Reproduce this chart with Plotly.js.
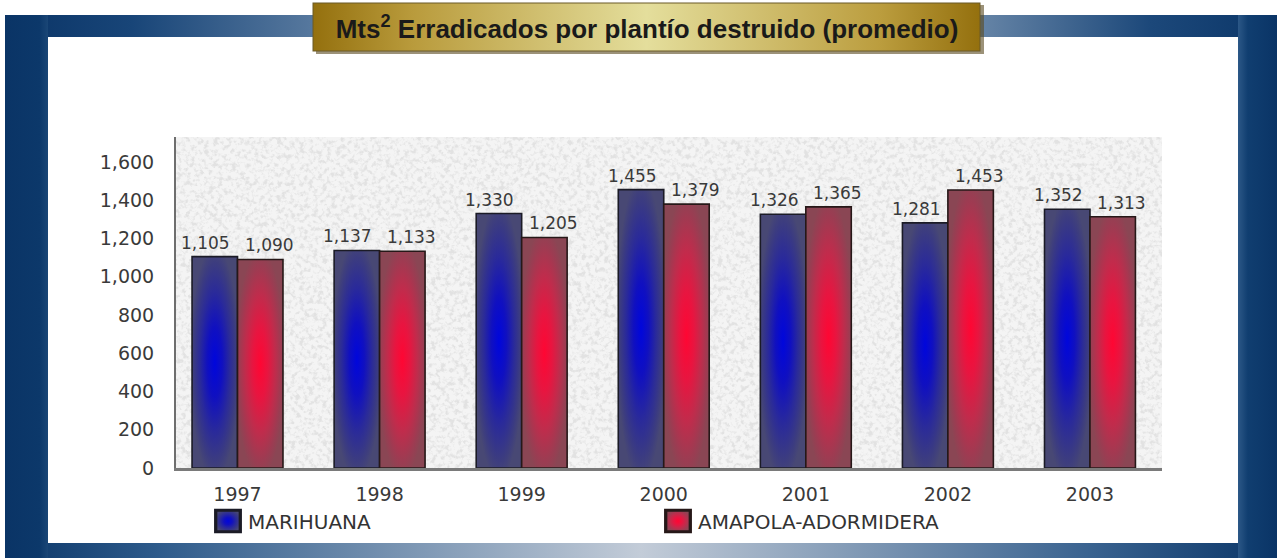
<!DOCTYPE html>
<html>
<head>
<meta charset="utf-8">
<script src="https://cdn.plot.ly/plotly-3.0.1.min.js"></script>
<style>
html,body{margin:0;padding:0;background:#fff;}
#chart{width:1277px;height:558px;}
</style>
</head>
<body>
<div id="chart"></div>
<script>
// ---- data ----
const years = ['1997','1998','1999','2000','2001','2002','2003'];
const marihuana = [1105, 1137, 1330, 1455, 1326, 1281, 1352];
const amapola = [1090, 1133, 1205, 1379, 1365, 1453, 1313];
const yTickVals = [0, 200, 400, 600, 800, 1000, 1200, 1400, 1600];
const seriesNames = ['MARIHUANA', 'AMAPOLA-ADORMIDERA'];
const chartTitle = 'Mts<sup>2</sup> Erradicados por plantío destruido (promedio)';

// ---- geometry helpers (plot area in page pixels) ----
const L = 176, R = 1162, T = 137, B = 468, W = 1277, H = 558;
const px = x => (x - L) / (R - L);
const py = y => (B - y) / (B - T);
const BAR_OFFSET = 0.16; // half bar width in category units (bargap 0.36, 2 bars)

// ---- decorative background (frame, title box, speckled plot area) ----
const bgSvg = `<svg xmlns='http://www.w3.org/2000/svg' width='${W}' height='${H}' viewBox='0 0 ${W} ${H}'>
<defs>
<linearGradient id='tb' x1='0' x2='1'>
<stop offset='0' stop-color='#0a3466'/><stop offset='0.1' stop-color='#184578'/>
<stop offset='0.25' stop-color='#5a7ba0'/><stop offset='0.5' stop-color='#b9c5d3'/>
<stop offset='0.75' stop-color='#6f8cac'/><stop offset='0.9' stop-color='#1c487a'/>
<stop offset='1' stop-color='#0b3668'/></linearGradient>
<linearGradient id='bb' x1='0' x2='1'>
<stop offset='0' stop-color='#0b3668'/><stop offset='0.12' stop-color='#2e5b8b'/>
<stop offset='0.5' stop-color='#c3ccd8'/><stop offset='0.85' stop-color='#3a6390'/>
<stop offset='1' stop-color='#0b3668'/></linearGradient>
<linearGradient id='rb' x1='0' x2='1'>
<stop offset='0' stop-color='#2c5887'/><stop offset='0.25' stop-color='#103e70'/>
<stop offset='1' stop-color='#0a3466'/></linearGradient>
<linearGradient id='lb' x1='0' x2='1'>
<stop offset='0' stop-color='#0a3466'/><stop offset='0.8' stop-color='#0c386a'/>
<stop offset='1' stop-color='#1a4676'/></linearGradient>
<linearGradient id='gold' x1='0' x2='1'>
<stop offset='0' stop-color='#94700e'/><stop offset='0.15' stop-color='#b99b3c'/>
<stop offset='0.5' stop-color='#e4de9c'/><stop offset='0.85' stop-color='#bb9d3e'/>
<stop offset='1' stop-color='#94700e'/></linearGradient>
<filter id='n' x='0' y='0' width='100%' height='100%'>
<feTurbulence type='fractalNoise' baseFrequency='0.22' numOctaves='3' seed='7' result='t'/>
<feColorMatrix in='t' type='matrix' values='0 0 0 0 0.76 0 0 0 0 0.76 0 0 0 0 0.76 4 0 0 0 -1.85'/>
</filter>
</defs>
<rect x='5' y='15' width='1272' height='22' fill='url(#tb)'/>
<rect x='5' y='543' width='1272' height='15' fill='url(#bb)'/>
<rect x='5' y='15' width='43' height='543' fill='url(#lb)'/>
<rect x='1238' y='15' width='39' height='543' fill='url(#rb)'/>
<rect x='176' y='137' width='986' height='331' fill='#f4f4f4'/>
<rect x='176' y='137' width='986' height='331' fill='#fff' filter='url(#n)'/>
<rect x='316' y='5' width='668' height='49' fill='#5a4a20' opacity='0.6'/>
<rect x='313' y='3' width='667' height='48' fill='url(#gold)' stroke='#6b5a28' stroke-width='1'/>
</svg>`;
const bgUri = 'data:image/svg+xml;charset=utf-8,' + encodeURIComponent(bgSvg);

const fontFam = 'DejaVu Sans, Verdana, sans-serif';

const data = [
  {
    type: 'bar', name: seriesNames[0], x: years, y: marihuana,
    marker: {color: '#2a2a9a', line: {color: '#1b1b26', width: 1.6}},
    hoverinfo: 'skip'
  },
  {
    type: 'bar', name: seriesNames[1], x: years, y: amapola,
    marker: {color: '#c02848', line: {color: '#261818', width: 1.6}},
    hoverinfo: 'skip'
  }
];

// value labels, placed from the data through the axes
const labelFont = {family: fontFam, size: 17, color: '#3a3a3a'};
const fmt = v => v.toLocaleString('en-US');
const annotations = [];
years.forEach(function (yr, i) {
  annotations.push({x: i - BAR_OFFSET, y: marihuana[i], xref: 'x', yref: 'y', text: fmt(marihuana[i]),
    showarrow: false, xanchor: 'center', yanchor: 'bottom', xshift: -9, yshift: 2, font: labelFont});
  annotations.push({x: i + BAR_OFFSET, y: amapola[i], xref: 'x', yref: 'y', text: fmt(amapola[i]),
    showarrow: false, xanchor: 'center', yanchor: 'bottom', xshift: 9, yshift: 2, font: labelFont});
});

const layout = {
  width: W, height: H,
  margin: {l: L, r: W - R, t: T, b: H - B, pad: 0},
  paper_bgcolor: '#ffffff',
  plot_bgcolor: 'rgba(0,0,0,0)',
  barmode: 'group', bargap: 0.36, bargroupgap: 0,
  title: {
    text: chartTitle,
    font: {family: 'Liberation Sans, Arial, sans-serif', size: 26, color: '#1a1a1a', weight: 'bold'},
    xref: 'paper', x: px(647), xanchor: 'center',
    yref: 'container', y: 1 - 29 / H, yanchor: 'middle'
  },
  xaxis: {
    type: 'category', range: [-0.433, 6.507],
    showline: true, linecolor: '#7a7a7a', linewidth: 3,
    showgrid: false, zeroline: false, ticks: '',
    tickfont: {family: fontFam, size: 19, color: '#3a3a3a'},
    ticklabelstandoff: 7, fixedrange: true
  },
  yaxis: {
    range: [0, 1730], tickvals: yTickVals, tickformat: ',d',
    showline: true, linecolor: '#6e6e6e', linewidth: 2,
    showgrid: false, zeroline: false, ticks: '',
    tickfont: {family: fontFam, size: 19, color: '#3a3a3a'},
    ticklabelstandoff: 16, fixedrange: true
  },
  annotations: annotations,
  showlegend: true,
  legend: {
    orientation: 'h', x: px(208), xanchor: 'left', xref: 'paper',
    y: py(521), yanchor: 'middle', yref: 'paper',
    font: {family: fontFam, size: 20, color: '#333333'},
    entrywidth: 405, entrywidthmode: 'pixels',
    bgcolor: 'rgba(0,0,0,0)', traceorder: 'normal'
  },
  images: [{
    source: bgUri, xref: 'paper', yref: 'paper',
    x: px(0), y: py(0), sizex: W / (R - L), sizey: H / (B - T),
    xanchor: 'left', yanchor: 'top', sizing: 'stretch', layer: 'below'
  }]
};

const gd = document.getElementById('chart');
Plotly.newPlot(gd, data, layout, {staticPlot: true}).then(function () {
  const NS = 'http://www.w3.org/2000/svg';
  const svg = gd.querySelector('svg.main-svg');
  let defs = svg.querySelector('defs');
  if (!defs) { defs = document.createElementNS(NS, 'defs'); svg.insertBefore(defs, svg.firstChild); }
  function grad(id, stops) {
    const g = document.createElementNS(NS, 'radialGradient');
    g.setAttribute('id', id);
    g.setAttribute('cx', '0.5'); g.setAttribute('cy', '0.5'); g.setAttribute('r', '0.55');
    stops.forEach(function (s) {
      const st = document.createElementNS(NS, 'stop');
      st.setAttribute('offset', s[0]); st.setAttribute('stop-color', s[1]);
      g.appendChild(st);
    });
    defs.appendChild(g);
  }
  grad('gBlue', [[0, '#0006dc'], [0.3, '#1010c0'], [0.6, '#2a2a9a'], [0.85, '#3c3c80'], [1, '#484874']]);
  grad('gRed', [[0, '#ff0633'], [0.3, '#e81540'], [0.6, '#c02c4c'], [0.85, '#9c3c52'], [1, '#8a4654']]);
  const ids = ['gBlue', 'gRed'];
  gd.querySelectorAll('.barlayer .trace').forEach(function (tr, i) {
    tr.querySelectorAll('.point path').forEach(function (p) { p.style.fill = 'url(#' + ids[i] + ')'; });
  });
  gd.querySelectorAll('.legend .traces').forEach(function (tr, i) {
    tr.querySelectorAll('.legendpoints path').forEach(function (p) {
      p.style.fill = 'url(#' + ids[i] + ')';
      p.setAttribute('transform', (p.getAttribute('transform') || '') + ' scale(2.05,1.8)');
    });
  });
});
</script>
</body>
</html>
